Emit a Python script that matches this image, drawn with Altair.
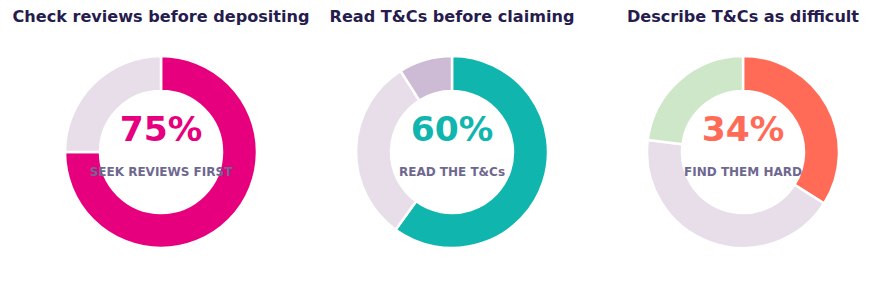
import altair as alt
import pandas as pd

titles = ["Check reviews before depositing", "Read T&Cs before claiming", "Describe T&Cs as difficult"]
big_values = ["75%", "60%", "34%"]
sub_labels = ["SEEK REVIEWS FIRST", "READ THE T&Cs", "FIND THEM HARD"]
segments = [["Seek reviews", "Other"],
            ["Read T&Cs", "Skim", "Skip"],
            ["Find hard", "Neutral", "Find easy"]]
values = [[75, 25], [60, 31, 9], [34, 43, 23]]
palettes = [["#E6007E", "#E7DEEA"],
            ["#10B5AE", "#E7DEEA", "#CDBBD6"],
            ["#FF6B57", "#E7DEEA", "#CDE7C8"]]

W, H = 290.5, 282
CX, CY = 161, 152
FONT = "DejaVu Sans"

panels = []
for i in range(3):
    df = pd.DataFrame({"segment": segments[i], "value": values[i],
                       "order": list(range(len(values[i])))})
    arc = alt.Chart(df).mark_arc(outerRadius=96, innerRadius=61, stroke="white", strokeWidth=2.5).encode(
        theta=alt.Theta("value:Q", stack=True),
        order=alt.Order("order:Q"),
        color=alt.Color("segment:N", scale=alt.Scale(domain=segments[i], range=palettes[i]), legend=None),
        x=alt.value(CX), y=alt.value(CY),
    )
    tdf = pd.DataFrame({"title": [titles[i]], "big": [big_values[i]], "sub": [sub_labels[i]]})
    base = alt.Chart(tdf)
    title = base.mark_text(font=FONT, fontSize=16.1, fontWeight="bold", color="#261C4D", baseline="middle").encode(
        text="title:N", x=alt.value(CX), y=alt.value(17))
    big = base.mark_text(font=FONT, fontSize=34.5, fontWeight="bold", color=palettes[i][0], baseline="middle").encode(
        text="big:N", x=alt.value(CX), y=alt.value(131))
    sub = base.mark_text(font=FONT, fontSize=12, fontWeight="bold", color="#6E6890", baseline="middle").encode(
        text="sub:N", x=alt.value(CX), y=alt.value(172))
    panels.append(alt.layer(arc, title, big, sub).properties(width=W, height=H))

chart = alt.hconcat(*panels, spacing=0, bounds="flush").resolve_scale(color="independent").properties(
    padding={"left": 0, "top": 0, "right": 0, "bottom": 0}
).configure_view(stroke=None)

chart.save("out.html", embed_options={"renderer": "svg", "actions": False})
